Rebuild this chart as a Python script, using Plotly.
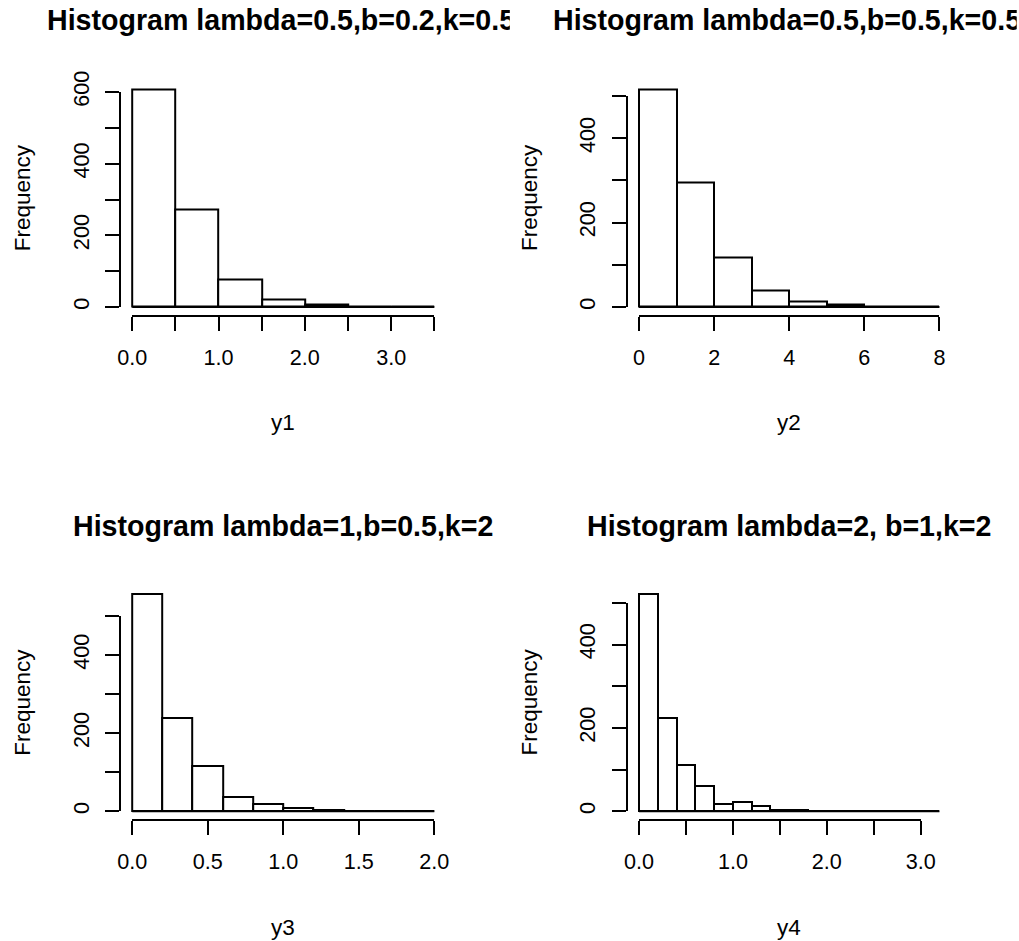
import plotly.graph_objects as go

W, H = 1019, 941

# ---------------- data ----------------
titles = [
    "Histogram lambda=0.5,b=0.2,k=0.5",
    "Histogram lambda=0.5,b=0.5,k=0.5",
    "Histogram lambda=1,b=0.5,k=2",
    "Histogram lambda=2, b=1,k=2",
]
xlabels = ["y1", "y2", "y3", "y4"]
ylabel = "Frequency"

breaks1 = [0.0, 0.5, 1.0, 1.5, 2.0, 2.5, 3.0, 3.5]
counts1 = [608, 272, 77, 22, 6, 1, 1]

breaks2 = [0, 1, 2, 3, 4, 5, 6, 7, 8]
counts2 = [516, 295, 117, 40, 14, 5, 1, 1]

breaks3 = [0.0, 0.2, 0.4, 0.6, 0.8, 1.0, 1.2, 1.4, 1.6, 1.8, 2.0]
counts3 = [557, 239, 117, 37, 18, 8, 4, 1, 0, 1]

breaks4 = [0.0, 0.2, 0.4, 0.6, 0.8, 1.0, 1.2, 1.4, 1.6, 1.8, 2.0,
           2.2, 2.4, 2.6, 2.8, 3.0, 3.2]
counts4 = [522, 224, 110, 61, 17, 22, 12, 4, 3, 0, 0, 0, 0, 0, 0, 1]

xticks1 = [0.0, 0.5, 1.0, 1.5, 2.0, 2.5, 3.0, 3.5]
xtext1 = ["0.0", "", "1.0", "", "2.0", "", "3.0", ""]
xticks2 = [0, 2, 4, 6, 8]
xtext2 = ["0", "2", "4", "6", "8"]
xticks3 = [0.0, 0.5, 1.0, 1.5, 2.0]
xtext3 = ["0.0", "0.5", "1.0", "1.5", "2.0"]
xticks4 = [0.0, 0.5, 1.0, 1.5, 2.0, 2.5, 3.0]
xtext4 = ["0.0", "", "1.0", "", "2.0", "", "3.0"]

yticks1 = [0, 100, 200, 300, 400, 500, 600]
ytext1 = ["0", "", "200", "", "400", "", "600"]
yticks2 = [0, 100, 200, 300, 400, 500]
ytext2 = ["0", "", "200", "", "400", ""]
yticks3 = yticks2
ytext3 = ytext2
yticks4 = yticks2
ytext4 = ytext2

# ---------------- layout geometry (pixels) ----------------
# plot regions: (left, right, top, bottom)
regions = [
    (120.2, 446.4, 80.5, 315.7),
    (627.0, 951.5, 80.5, 315.7),
    (120.2, 446.4, 585.0, 820.0),
    (627.0, 951.5, 585.0, 820.0),
]
title_pos = [  # (x, anchor, y, clip width)
    (46.7, "left", 20.3, 509.5 - 46.7),
    (553.3, "left", 20.3, 1017 - 553.3),
    (None, "center", 526.3, None),
    (None, "center", 526.3, None),
]

FONT = "Liberation Sans, Arial, sans-serif"
TICKSIZE = 21.6
LABSIZE = 22.5
TITLESIZE = 28.6

panels = [
    (breaks1, counts1, xticks1, xtext1, yticks1, ytext1),
    (breaks2, counts2, xticks2, xtext2, yticks2, ytext2),
    (breaks3, counts3, xticks3, xtext3, yticks3, ytext3),
    (breaks4, counts4, xticks4, xtext4, yticks4, ytext4),
]

fig = go.Figure()
layout = dict(
    width=W, height=H,
    margin=dict(l=0, r=0, t=0, b=0),
    paper_bgcolor="white",
    plot_bgcolor="rgba(0,0,0,0)",
    showlegend=False,
    template="none",
    bargap=0,
)
annotations = []

for i, (brk, cnt, xt, xtt, yt, ytt) in enumerate(panels):
    n = i + 1
    nd = i + 5
    L, R, T, B = regions[i]
    # R-style 4% axis extension
    x0, x1 = brk[0], brk[-1]
    xr = [x0 - 0.04 * (x1 - x0), x1 + 0.04 * (x1 - x0)]
    m = max(cnt)
    yr = [-0.04 * m, 1.04 * m]

    def px(v):
        return L + (v - xr[0]) / (xr[1] - xr[0]) * (R - L)

    def py(v):
        return B - (v - yr[0]) / (yr[1] - yr[0]) * (B - T)

    centers = [(brk[j] + brk[j + 1]) / 2 for j in range(len(cnt))]
    widths = [brk[j + 1] - brk[j] for j in range(len(cnt))]

    fig.add_trace(go.Bar(
        x=centers, y=cnt, width=widths,
        marker=dict(color="white", line=dict(color="black", width=2)),
        xaxis=f"x{n}", yaxis=f"y{n}", hoverinfo="x+y",
    ))
    fig.add_trace(go.Scatter(
        x=[brk[0], brk[-1]], y=[0, 0], mode="lines",
        line=dict(color="black", width=2),
        xaxis=f"x{n}", yaxis=f"y{n}", hoverinfo="skip",
    ))
    # dummy trace to instantiate decoration axes
    fig.add_trace(go.Scatter(
        x=[xt[0]], y=[yt[0]], mode="markers", marker=dict(opacity=0, size=1),
        xaxis=f"x{nd}", yaxis=f"y{nd}", hoverinfo="skip",
    ))

    layout[f"xaxis{n}"] = dict(domain=[L / W, R / W], range=xr, visible=False,
                               anchor=f"y{n}", fixedrange=True)
    layout[f"yaxis{n}"] = dict(domain=[1 - B / H, 1 - T / H], range=yr, visible=False,
                               anchor=f"x{n}", fixedrange=True)

    common = dict(
        showline=True, linecolor="black", linewidth=2,
        ticks="outside", ticklen=14, tickwidth=2, tickcolor="black",
        tickmode="array", showgrid=False, zeroline=False,
        tickfont=dict(family=FONT, size=TICKSIZE, color="black"),
        fixedrange=True, anchor="free",
    )
    layout[f"xaxis{nd}"] = dict(
        common, domain=[px(xt[0]) / W, px(xt[-1]) / W], range=[xt[0], xt[-1]],
        position=1 - B / H, side="bottom", tickvals=xt, ticktext=xtt,
        ticklabelstandoff=8,
    )
    layout[f"yaxis{nd}"] = dict(
        common, domain=[1 - py(yt[0]) / H, 1 - py(yt[-1]) / H], range=[yt[0], yt[-1]],
        position=L / W, side="left", tickvals=yt, ticktext=ytt, tickangle=-90,
        ticklabelstandoff=8,
    )

    # titles
    tx, tanchor, ty, tw = title_pos[i]
    if tx is None:
        tx = (L + R) / 2
    ann = dict(
        text=titles[i], xref="paper", yref="paper", x=tx / W, y=1 - ty / H,
        xanchor=tanchor, yanchor="middle", showarrow=False,
        font=dict(family=FONT, size=TITLESIZE, color="black", weight="bold"),
        borderpad=0, borderwidth=0,
    )
    if tw is not None:
        ann["width"] = tw
        ann["align"] = "left"
    annotations.append(ann)

    # axis titles
    annotations.append(dict(
        text=xlabels[i], xref="paper", yref="paper",
        x=((L + R) / 2) / W, y=1 - (B + 107) / H, xanchor="center", yanchor="middle",
        showarrow=False, font=dict(family=FONT, size=LABSIZE, color="black"),
    ))
    annotations.append(dict(
        text=ylabel, xref="paper", yref="paper",
        x=(L - 98) / W, y=1 - ((T + B) / 2) / H, xanchor="center", yanchor="middle",
        textangle=-90, showarrow=False,
        font=dict(family=FONT, size=LABSIZE, color="black"),
    ))

layout["annotations"] = annotations
fig.update_layout(**layout)

fig.write_html("out.html", config={"displayModeBar": False},
               post_script="document.body.style.margin='0';")
